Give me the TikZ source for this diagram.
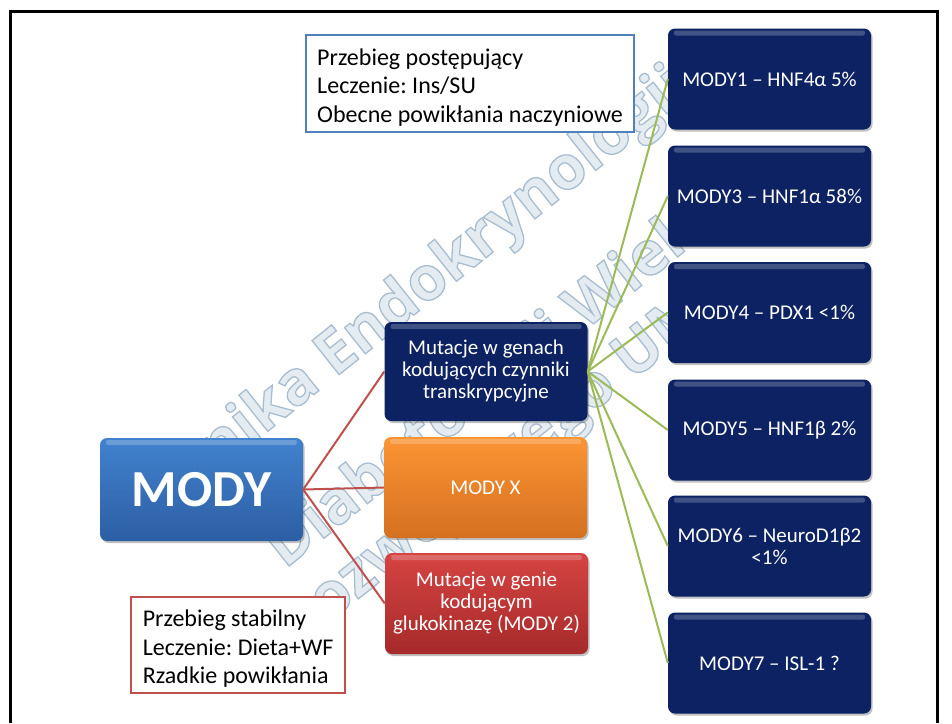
\documentclass[tikz,border=0pt]{standalone}
\usepackage{fontspec}
\setmainfont{Carlito}
\newfontfamily\wmfont{Open Sans}
\usetikzlibrary{shadows}
\frenchspacing

\definecolor{navy}{RGB}{12,34,98}
\definecolor{modytop}{RGB}{66,130,206}
\definecolor{modybot}{RGB}{44,94,164}
\definecolor{orangetop}{RGB}{251,149,52}
\definecolor{orangebot}{RGB}{212,112,32}
\definecolor{redtop}{RGB}{213,68,66}
\definecolor{redbot}{RGB}{166,42,42}
\definecolor{linkred}{RGB}{192,80,77}
\definecolor{linkgreen}{RGB}{155,187,89}
\definecolor{frameblue}{RGB}{79,129,189}
\definecolor{wmfill}{RGB}{228,236,242}

% outlined lettering: fill in the current colour, stroke in a pale steel blue
\newcommand\hollowtext[1]{\special{pdf:literal direct 2 Tr 1.3 w 0.66 0.74 0.81 RG}#1\special{pdf:literal direct 0 Tr}}
% extra height on the first line of a note
\newcommand\notestrut{\rule{0pt}{24pt}}

\tikzset{
  glossy/.style={rounded corners=7pt, minimum width=203pt, minimum height=101pt,
    text=white, align=center, inner sep=4pt,
    font=\fontsize{21}{22}\selectfont,
    drop shadow={shadow xshift=1.5pt, shadow yshift=-2pt, opacity=0.35, fill=black!70},
    path picture={\fill[white, opacity=0.22, rounded corners=2pt]
      ([xshift=6pt,yshift=-2pt]path picture bounding box.north west) rectangle
      ([xshift=-6pt,yshift=-7pt]path picture bounding box.north east);}},
  navybox/.style={glossy, fill=navy},
  modybox/.style={glossy, top color=modytop, bottom color=modybot},
  orangebox/.style={glossy, top color=orangetop, bottom color=orangebot},
  redbox/.style={glossy, top color=redtop, bottom color=redbot},
  infobox/.style={fill=white, line width=2.2pt, anchor=north west, align=left,
    inner sep=4pt, font=\fontsize{24}{28.5}\selectfont, text=black},
  wm/.style={text=wmfill, font=\wmfont\bfseries\fontsize{61}{66}\selectfont, rotate=38.5, inner sep=0pt},
  redlink/.style={draw=linkred, line width=2pt},
  greenlink/.style={draw=linkgreen, line width=2pt},
  framebar/.style={draw=black, line width=3pt}
}

\begin{document}
\begin{tikzpicture}[x=1pt, y=-1pt]
\useasboundingbox (0,0) rectangle (952,723);
\fill[white] (0,0) rectangle (952,723);

% faint watermark lettering behind the chart
\node[wm] (wmA) at (415,294) {\hollowtext{Klinika Endokrynologii}};
\node[wm] (wmB) at (500,378) {\hollowtext{Diabetologii Wieku}};
\node[wm] (wmC) at (495,470) {\hollowtext{Rozwojowego UM}};

% page frame
\draw[framebar] (10,723) -- (10,11) -- (937,11) -- (937,723);

% main boxes
\node[modybox, minimum height=103pt, font=\bfseries\fontsize{52}{56}\selectfont] (mody) at (201.5,489.5) {MODY};
\node[navybox, minimum height=99pt] (genach) at (486,371.5) {Mutacje w genach\\kodujących czynniki\\transkrypcyjne};
\node[orangebox] (modyx) at (485.5,487.5) {MODY X};
\node[redbox] (genie) at (486.5,603.5) {Mutacje w genie\\kodującym\\glukokinazę (MODY 2)};

% transcription factor subtypes
\node[navybox] (m1) at (769.5,79) {MODY1 – HNF4α 5\%};
\node[navybox] (m3) at (769.5,196) {MODY3 – HNF1α 58\%};
\node[navybox] (m4) at (769.5,312.5) {MODY4 – PDX1 <1\%};
\node[navybox] (m5) at (769.5,430) {MODY5 – HNF1β 2\%};
\node[navybox] (m6) at (769.5,546) {MODY6 – NeuroD1β2\\<1\%};
\node[navybox] (m7) at (769.5,663) {MODY7 – ISL-1 ?};

% clinical notes
\node[infobox, draw=frameblue, minimum width=328pt, minimum height=97pt] (noteA) at (305,34)
  {\notestrut Przebieg postępujący\\Leczenie: Ins/SU\\Obecne powikłania naczyniowe};
\node[infobox, draw=linkred, minimum width=214pt, minimum height=96pt] (noteB) at (130,596)
  {\notestrut Przebieg stabilny\\Leczenie: Dieta+WF\\Rzadkie powikłania};

% connectors
\draw[redlink] (mody.east) -- (genach.west);
\draw[redlink] (mody.east) -- (modyx.west);
\draw[redlink] (mody.east) -- (genie.west);
\foreach \m in {m1,m3,m4,m5,m6,m7}
  \draw[greenlink] (genach.east) -- (\m.west);
\end{tikzpicture}
\end{document}
